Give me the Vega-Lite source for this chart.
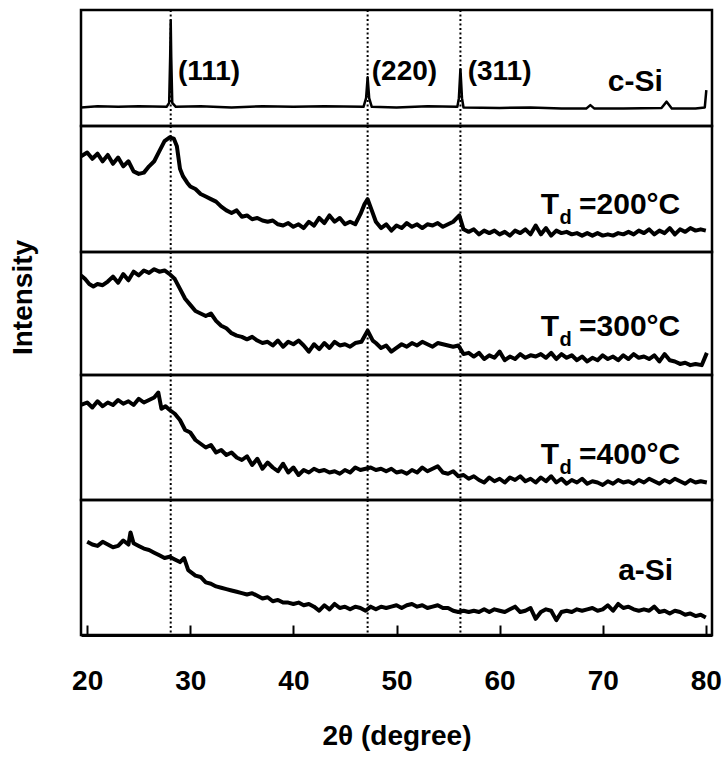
{
"$schema": "https://vega.github.io/schema/vega-lite/v6.json",
"padding": {"left": 7, "top": 7, "right": 14, "bottom": 0},
"spacing": 0,
"bounds": "flush",
"config": {"view": {"stroke": "black", "strokeWidth": 2.5}, "font": "Liberation Sans"},
"datasets": {
"lines": [{"x": 28.1}, {"x": 47.2}, {"x": 56.2}],
"csi": [{"x":19.4,"y":16},{"x":21,"y":17},{"x":23,"y":16.5},{"x":25,"y":17},{"x":27.7,"y":16.5},{"x":27.95,"y":20},{"x":28.05,"y":60},{"x":28.1,"y":91},{"x":28.15,"y":60},{"x":28.25,"y":20},{"x":28.6,"y":16.5},{"x":31,"y":17},{"x":34,"y":16},{"x":37,"y":17},{"x":40,"y":16.5},{"x":43,"y":17},{"x":46.8,"y":16.5},{"x":47.05,"y":24},{"x":47.2,"y":42},{"x":47.35,"y":24},{"x":47.6,"y":16.5},{"x":50,"y":16},{"x":53,"y":17},{"x":55.9,"y":16.5},{"x":56.05,"y":24},{"x":56.2,"y":49},{"x":56.35,"y":24},{"x":56.5,"y":16},{"x":60,"y":15.5},{"x":63,"y":16},{"x":66,"y":15},{"x":68.4,"y":15},{"x":68.8,"y":18},{"x":69.2,"y":15},{"x":72,"y":15},{"x":75.7,"y":15.5},{"x":76.2,"y":21},{"x":76.7,"y":15},{"x":79,"y":15},{"x":79.9,"y":16},{"x":80.05,"y":31}],
"t200": [{"x":19.4,"y":76},{"x":20,"y":79},{"x":20.5,"y":74},{"x":21,"y":78},{"x":21.5,"y":72},{"x":22,"y":77},{"x":22.5,"y":70},{"x":23,"y":75},{"x":23.5,"y":68},{"x":24,"y":72},{"x":24.5,"y":64},{"x":25,"y":62},{"x":25.5,"y":63},{"x":26,"y":68},{"x":26.5,"y":72},{"x":27,"y":80},{"x":27.5,"y":88},{"x":28,"y":91},{"x":28.4,"y":90},{"x":28.7,"y":84},{"x":29,"y":66},{"x":29.3,"y":60},{"x":29.7,"y":55},{"x":30,"y":52},{"x":30.5,"y":50},{"x":31,"y":46},{"x":31.5,"y":44},{"x":32,"y":42},{"x":32.5,"y":40},{"x":33,"y":36},{"x":33.5,"y":33},{"x":34,"y":31},{"x":34.5,"y":33},{"x":35,"y":28},{"x":35.5,"y":29},{"x":36,"y":26},{"x":36.5,"y":27},{"x":37,"y":25},{"x":37.5,"y":24},{"x":38,"y":25},{"x":38.5,"y":22},{"x":39,"y":21},{"x":39.5,"y":23},{"x":40,"y":20},{"x":40.5,"y":22},{"x":41,"y":19},{"x":41.5,"y":24},{"x":42,"y":21},{"x":42.5,"y":27},{"x":43,"y":23},{"x":43.5,"y":29},{"x":44,"y":24},{"x":44.5,"y":27},{"x":45,"y":22},{"x":45.5,"y":24},{"x":46,"y":22},{"x":46.5,"y":30},{"x":46.9,"y":38},{"x":47.2,"y":42},{"x":47.6,"y":33},{"x":48,"y":24},{"x":48.5,"y":19},{"x":49,"y":22},{"x":49.5,"y":17},{"x":50,"y":21},{"x":50.5,"y":19},{"x":51,"y":23},{"x":51.5,"y":20},{"x":52,"y":22},{"x":52.5,"y":19},{"x":53,"y":22},{"x":53.5,"y":21},{"x":54,"y":23},{"x":54.5,"y":20},{"x":55,"y":22},{"x":55.5,"y":24},{"x":56.1,"y":29},{"x":56.5,"y":18},{"x":57,"y":16},{"x":57.5,"y":18},{"x":58,"y":14},{"x":58.5,"y":17},{"x":59,"y":15},{"x":59.5,"y":17},{"x":60,"y":14},{"x":60.5,"y":16},{"x":61,"y":13},{"x":61.5,"y":17},{"x":62,"y":15},{"x":62.5,"y":18},{"x":63,"y":14},{"x":63.5,"y":21},{"x":64,"y":14},{"x":64.5,"y":19},{"x":65,"y":13},{"x":65.5,"y":17},{"x":66,"y":15},{"x":66.5,"y":16},{"x":67,"y":14},{"x":67.5,"y":15},{"x":68,"y":13},{"x":68.5,"y":15},{"x":69,"y":13},{"x":69.5,"y":15},{"x":70,"y":13},{"x":70.5,"y":14},{"x":71,"y":13},{"x":71.5,"y":15},{"x":72,"y":14},{"x":72.5,"y":16},{"x":73,"y":14},{"x":73.5,"y":17},{"x":74,"y":15},{"x":74.5,"y":18},{"x":75,"y":14},{"x":75.5,"y":17},{"x":76,"y":15},{"x":76.5,"y":19},{"x":77,"y":14},{"x":77.5,"y":18},{"x":78,"y":16},{"x":78.5,"y":19},{"x":79,"y":17},{"x":79.5,"y":18},{"x":80,"y":17}],
"t300": [{"x":19.4,"y":81},{"x":19.8,"y":78},{"x":20.2,"y":74},{"x":20.6,"y":72},{"x":21,"y":74},{"x":21.5,"y":73},{"x":22,"y":76},{"x":22.5,"y":80},{"x":23,"y":75},{"x":23.5,"y":82},{"x":24,"y":77},{"x":24.5,"y":84},{"x":25,"y":81},{"x":25.5,"y":85},{"x":26,"y":83},{"x":26.5,"y":86},{"x":27,"y":84},{"x":27.5,"y":85},{"x":28,"y":82},{"x":28.5,"y":78},{"x":29,"y":70},{"x":29.5,"y":62},{"x":30,"y":57},{"x":30.5,"y":52},{"x":31,"y":50},{"x":31.5,"y":48},{"x":32,"y":50},{"x":32.5,"y":44},{"x":33,"y":40},{"x":33.5,"y":38},{"x":34,"y":34},{"x":34.5,"y":32},{"x":35,"y":31},{"x":35.5,"y":29},{"x":36,"y":31},{"x":36.5,"y":28},{"x":37,"y":26},{"x":37.5,"y":27},{"x":38,"y":24},{"x":38.5,"y":28},{"x":39,"y":23},{"x":39.5,"y":27},{"x":40,"y":25},{"x":40.5,"y":28},{"x":41,"y":24},{"x":41.5,"y":19},{"x":42,"y":25},{"x":42.5,"y":21},{"x":43,"y":26},{"x":43.5,"y":22},{"x":44,"y":27},{"x":44.5,"y":24},{"x":45,"y":25},{"x":45.5,"y":23},{"x":46,"y":26},{"x":46.6,"y":27},{"x":47.2,"y":36},{"x":47.7,"y":28},{"x":48,"y":26},{"x":48.5,"y":22},{"x":49,"y":24},{"x":49.5,"y":19},{"x":50,"y":22},{"x":50.5,"y":25},{"x":51,"y":23},{"x":51.5,"y":26},{"x":52,"y":24},{"x":52.5,"y":27},{"x":53,"y":25},{"x":53.5,"y":23},{"x":54,"y":26},{"x":54.5,"y":25},{"x":55,"y":24},{"x":55.5,"y":23},{"x":56,"y":24},{"x":56.5,"y":17},{"x":57,"y":18},{"x":57.5,"y":15},{"x":58,"y":18},{"x":58.5,"y":13},{"x":59,"y":16},{"x":59.5,"y":14},{"x":60,"y":19},{"x":60.5,"y":12},{"x":61,"y":15},{"x":61.5,"y":13},{"x":62,"y":17},{"x":62.5,"y":14},{"x":63,"y":16},{"x":63.5,"y":15},{"x":64,"y":17},{"x":64.5,"y":14},{"x":65,"y":18},{"x":65.5,"y":13},{"x":66,"y":17},{"x":66.5,"y":14},{"x":67,"y":16},{"x":67.5,"y":12},{"x":68,"y":15},{"x":68.5,"y":11},{"x":69,"y":14},{"x":69.5,"y":12},{"x":70,"y":16},{"x":70.5,"y":13},{"x":71,"y":15},{"x":71.5,"y":12},{"x":72,"y":16},{"x":72.5,"y":13},{"x":73,"y":17},{"x":73.5,"y":14},{"x":74,"y":15},{"x":74.5,"y":13},{"x":75,"y":16},{"x":75.5,"y":11},{"x":76,"y":17},{"x":76.5,"y":12},{"x":77,"y":11},{"x":77.5,"y":9},{"x":78,"y":10},{"x":78.5,"y":8},{"x":79,"y":9},{"x":79.6,"y":8},{"x":80.1,"y":18}],
"t400": [{"x":19.4,"y":76},{"x":20,"y":78},{"x":20.5,"y":74},{"x":21,"y":79},{"x":21.5,"y":75},{"x":22,"y":78},{"x":22.5,"y":76},{"x":23,"y":80},{"x":23.5,"y":77},{"x":24,"y":79},{"x":24.5,"y":76},{"x":25,"y":81},{"x":25.5,"y":78},{"x":26,"y":80},{"x":26.5,"y":82},{"x":26.9,"y":86},{"x":27.2,"y":73},{"x":27.6,"y":75},{"x":28,"y":72},{"x":28.5,"y":69},{"x":29,"y":64},{"x":29.5,"y":56},{"x":30,"y":54},{"x":30.5,"y":48},{"x":31,"y":45},{"x":31.5,"y":42},{"x":32,"y":44},{"x":32.5,"y":38},{"x":33,"y":40},{"x":33.5,"y":36},{"x":34,"y":38},{"x":34.5,"y":34},{"x":35,"y":32},{"x":35.5,"y":35},{"x":36,"y":28},{"x":36.5,"y":33},{"x":37,"y":25},{"x":37.5,"y":30},{"x":38,"y":26},{"x":38.5,"y":23},{"x":39,"y":29},{"x":39.5,"y":22},{"x":40,"y":26},{"x":40.5,"y":20},{"x":41,"y":24},{"x":41.5,"y":22},{"x":42,"y":25},{"x":42.5,"y":23},{"x":43,"y":24},{"x":43.5,"y":22},{"x":44,"y":23},{"x":44.5,"y":21},{"x":45,"y":24},{"x":45.5,"y":22},{"x":46,"y":26},{"x":46.5,"y":24},{"x":47,"y":25},{"x":47.5,"y":26},{"x":48,"y":24},{"x":48.5,"y":25},{"x":49,"y":23},{"x":49.5,"y":25},{"x":50,"y":22},{"x":50.5,"y":23},{"x":51,"y":21},{"x":51.5,"y":24},{"x":52,"y":22},{"x":52.5,"y":26},{"x":53,"y":23},{"x":53.5,"y":25},{"x":54,"y":27},{"x":54.5,"y":22},{"x":55,"y":21},{"x":55.5,"y":23},{"x":56,"y":19},{"x":56.5,"y":20},{"x":57,"y":17},{"x":57.5,"y":19},{"x":58,"y":16},{"x":58.5,"y":14},{"x":59,"y":18},{"x":59.5,"y":15},{"x":60,"y":17},{"x":60.5,"y":14},{"x":61,"y":18},{"x":61.5,"y":16},{"x":62,"y":19},{"x":62.5,"y":15},{"x":63,"y":17},{"x":63.5,"y":14},{"x":64,"y":18},{"x":64.5,"y":15},{"x":65,"y":19},{"x":65.5,"y":14},{"x":66,"y":17},{"x":66.5,"y":13},{"x":67,"y":16},{"x":67.5,"y":14},{"x":68,"y":17},{"x":68.5,"y":13},{"x":69,"y":15},{"x":69.5,"y":14},{"x":70,"y":12},{"x":70.5,"y":15},{"x":71,"y":13},{"x":71.5,"y":16},{"x":72,"y":14},{"x":72.5,"y":15},{"x":73,"y":13},{"x":73.5,"y":16},{"x":74,"y":14},{"x":74.5,"y":17},{"x":75,"y":15},{"x":75.5,"y":13},{"x":76,"y":16},{"x":76.5,"y":14},{"x":77,"y":17},{"x":77.5,"y":15},{"x":78,"y":13},{"x":78.5,"y":16},{"x":79,"y":14},{"x":79.5,"y":15},{"x":80.1,"y":14}],
"asi": [{"x":20,"y":69},{"x":20.5,"y":67},{"x":21,"y":66},{"x":21.5,"y":69},{"x":22,"y":67},{"x":22.5,"y":65},{"x":23,"y":66},{"x":23.5,"y":70},{"x":24,"y":67},{"x":24.2,"y":76},{"x":24.5,"y":68},{"x":25,"y":66},{"x":25.5,"y":64},{"x":26,"y":63},{"x":26.5,"y":61},{"x":27,"y":59},{"x":27.5,"y":57},{"x":28,"y":58},{"x":28.5,"y":56},{"x":29,"y":54},{"x":29.4,"y":57},{"x":29.8,"y":48},{"x":30.5,"y":44},{"x":31,"y":43},{"x":31.5,"y":39},{"x":32,"y":38},{"x":32.5,"y":36},{"x":33,"y":35},{"x":33.5,"y":34},{"x":34,"y":33},{"x":34.5,"y":32},{"x":35,"y":31},{"x":35.5,"y":30},{"x":36,"y":31},{"x":36.5,"y":29},{"x":37,"y":27},{"x":37.5,"y":28},{"x":38,"y":25},{"x":38.5,"y":26},{"x":39,"y":24},{"x":39.5,"y":24},{"x":40,"y":23},{"x":40.5,"y":24},{"x":41,"y":22},{"x":41.5,"y":23},{"x":42,"y":21},{"x":42.5,"y":18},{"x":43,"y":22},{"x":43.5,"y":19},{"x":44,"y":23},{"x":44.5,"y":20},{"x":45,"y":21},{"x":45.5,"y":19},{"x":46,"y":21},{"x":46.5,"y":20},{"x":47,"y":18},{"x":47.5,"y":21},{"x":48,"y":19},{"x":48.5,"y":21},{"x":49,"y":20},{"x":49.5,"y":21},{"x":50,"y":22},{"x":50.5,"y":20},{"x":51,"y":22},{"x":51.5,"y":23},{"x":52,"y":21},{"x":52.5,"y":22},{"x":53,"y":20},{"x":53.5,"y":21},{"x":54,"y":22},{"x":54.5,"y":20},{"x":55,"y":20},{"x":55.5,"y":18},{"x":56,"y":17},{"x":56.5,"y":18},{"x":57,"y":17},{"x":57.5,"y":18},{"x":58,"y":17},{"x":58.5,"y":19},{"x":59,"y":17},{"x":59.5,"y":19},{"x":60,"y":18},{"x":60.5,"y":17},{"x":61,"y":19},{"x":61.5,"y":21},{"x":62,"y":17},{"x":62.5,"y":18},{"x":63,"y":20},{"x":63.5,"y":12},{"x":64,"y":17},{"x":64.5,"y":19},{"x":65,"y":18},{"x":65.5,"y":11},{"x":66,"y":17},{"x":66.5,"y":18},{"x":67,"y":17},{"x":67.5,"y":19},{"x":68,"y":18},{"x":68.5,"y":19},{"x":69,"y":20},{"x":69.5,"y":18},{"x":70,"y":19},{"x":70.5,"y":22},{"x":71,"y":18},{"x":71.5,"y":23},{"x":72,"y":20},{"x":72.5,"y":21},{"x":73,"y":19},{"x":73.5,"y":18},{"x":74,"y":19},{"x":74.5,"y":18},{"x":75,"y":21},{"x":75.5,"y":17},{"x":76,"y":18},{"x":76.5,"y":16},{"x":77,"y":18},{"x":77.5,"y":17},{"x":78,"y":15},{"x":78.5,"y":16},{"x":79,"y":14},{"x":79.5,"y":15},{"x":80,"y":13}]
},
"vconcat": [
{"width": 631, "height": 116,
 "layer": [
  {"data": {"name": "lines"}, "mark": {"type": "rule", "color": "black", "strokeWidth": 2, "strokeDash": [2, 2.5]},
   "encoding": {"x": {"field": "x", "type": "quantitative", "scale": {"domain": [19.4, 80.6], "nice": false, "zero": false}, "axis": null}}},
  {"data": {"name": "csi"}, "mark": {"type": "line", "color": "black", "strokeWidth": 2.5, "strokeJoin": "round", "clip": true},
   "encoding": {"x": {"field": "x", "type": "quantitative", "scale": {"domain": [19.4, 80.6], "nice": false, "zero": false}, "axis": null},
     "y": {"field": "y", "type": "quantitative", "scale": {"domain": [0, 100], "nice": false}, "axis": null}}},
  {"data": {"values": [{"x": 28.8, "y": 40, "t": "(111)"}, {"x": 47.6, "y": 40, "t": "(220)"}, {"x": 56.9, "y": 40, "t": "(311)"}]},
   "mark": {"type": "text", "align": "left", "baseline": "alphabetic", "fontSize": 28, "fontWeight": "bold", "font": "Liberation Sans"},
   "encoding": {"x": {"field": "x", "type": "quantitative"}, "y": {"field": "y", "type": "quantitative"}, "text": {"field": "t"}}},
  {"data": {"values": [{"x": 70.5, "y": 30, "t": "c-Si"}]},
   "mark": {"type": "text", "align": "left", "baseline": "alphabetic", "fontSize": 30, "fontWeight": "bold", "font": "Liberation Sans"},
   "encoding": {"x": {"field": "x", "type": "quantitative"}, "y": {"field": "y", "type": "quantitative"}, "text": {"field": "t"}}}
 ]},
{"width": 631, "height": 126,
 "layer": [
  {"data": {"name": "lines"}, "mark": {"type": "rule", "color": "black", "strokeWidth": 2, "strokeDash": [2, 2.5]},
   "encoding": {"x": {"field": "x", "type": "quantitative", "scale": {"domain": [19.4, 80.6], "nice": false, "zero": false}, "axis": null}}},
  {"data": {"name": "t200"}, "mark": {"type": "line", "color": "black", "strokeWidth": 4, "strokeJoin": "round", "clip": true},
   "encoding": {"x": {"field": "x", "type": "quantitative", "scale": {"domain": [19.4, 80.6], "nice": false, "zero": false}, "axis": null},
     "y": {"field": "y", "type": "quantitative", "scale": {"domain": [0, 100], "nice": false}, "axis": null}}},
  {"data": {"values": [{"x": 64.0, "y": 30, "t": "T"}, {"x": 67.7, "y": 30, "t": "=200°C"}]},
   "mark": {"type": "text", "align": "left", "baseline": "alphabetic", "fontSize": 30, "fontWeight": "bold", "font": "Liberation Sans"},
   "encoding": {"x": {"field": "x", "type": "quantitative"}, "y": {"field": "y", "type": "quantitative"}, "text": {"field": "t"}}},
  {"data": {"values": [{"x": 66.4, "y": 22, "t": "d"}]},
   "mark": {"type": "text", "align": "center", "baseline": "alphabetic", "fontSize": 20, "fontWeight": "bold", "font": "Liberation Sans"},
   "encoding": {"x": {"field": "x", "type": "quantitative"}, "y": {"field": "y", "type": "quantitative"}, "text": {"field": "t"}}}
 ]},
{"width": 631, "height": 123,
 "layer": [
  {"data": {"name": "lines"}, "mark": {"type": "rule", "color": "black", "strokeWidth": 2, "strokeDash": [2, 2.5]},
   "encoding": {"x": {"field": "x", "type": "quantitative", "scale": {"domain": [19.4, 80.6], "nice": false, "zero": false}, "axis": null}}},
  {"data": {"name": "t300"}, "mark": {"type": "line", "color": "black", "strokeWidth": 4, "strokeJoin": "round", "clip": true},
   "encoding": {"x": {"field": "x", "type": "quantitative", "scale": {"domain": [19.4, 80.6], "nice": false, "zero": false}, "axis": null},
     "y": {"field": "y", "type": "quantitative", "scale": {"domain": [0, 100], "nice": false},
       "axis": {"title": "Intensity", "labels": false, "ticks": false, "domain": false, "grid": false, "titleFontSize": 28, "titleFont": "Liberation Sans", "titleFontWeight": "bold", "titleColor": "black", "titlePadding": 44, "titleY": 45}}}},
  {"data": {"values": [{"x": 64.0, "y": 31.5, "t": "T"}, {"x": 67.7, "y": 31.5, "t": "=300°C"}]},
   "mark": {"type": "text", "align": "left", "baseline": "alphabetic", "fontSize": 30, "fontWeight": "bold", "font": "Liberation Sans"},
   "encoding": {"x": {"field": "x", "type": "quantitative"}, "y": {"field": "y", "type": "quantitative"}, "text": {"field": "t"}}},
  {"data": {"values": [{"x": 66.4, "y": 23.5, "t": "d"}]},
   "mark": {"type": "text", "align": "center", "baseline": "alphabetic", "fontSize": 20, "fontWeight": "bold", "font": "Liberation Sans"},
   "encoding": {"x": {"field": "x", "type": "quantitative"}, "y": {"field": "y", "type": "quantitative"}, "text": {"field": "t"}}}
 ]},
{"width": 631, "height": 125,
 "layer": [
  {"data": {"name": "lines"}, "mark": {"type": "rule", "color": "black", "strokeWidth": 2, "strokeDash": [2, 2.5]},
   "encoding": {"x": {"field": "x", "type": "quantitative", "scale": {"domain": [19.4, 80.6], "nice": false, "zero": false}, "axis": null}}},
  {"data": {"name": "t400"}, "mark": {"type": "line", "color": "black", "strokeWidth": 4, "strokeJoin": "round", "clip": true},
   "encoding": {"x": {"field": "x", "type": "quantitative", "scale": {"domain": [19.4, 80.6], "nice": false, "zero": false}, "axis": null},
     "y": {"field": "y", "type": "quantitative", "scale": {"domain": [0, 100], "nice": false}, "axis": null}}},
  {"data": {"values": [{"x": 64.0, "y": 28.8, "t": "T"}, {"x": 67.7, "y": 28.8, "t": "=400°C"}]},
   "mark": {"type": "text", "align": "left", "baseline": "alphabetic", "fontSize": 30, "fontWeight": "bold", "font": "Liberation Sans"},
   "encoding": {"x": {"field": "x", "type": "quantitative"}, "y": {"field": "y", "type": "quantitative"}, "text": {"field": "t"}}},
  {"data": {"values": [{"x": 66.4, "y": 20.8, "t": "d"}]},
   "mark": {"type": "text", "align": "center", "baseline": "alphabetic", "fontSize": 20, "fontWeight": "bold", "font": "Liberation Sans"},
   "encoding": {"x": {"field": "x", "type": "quantitative"}, "y": {"field": "y", "type": "quantitative"}, "text": {"field": "t"}}}
 ]},
{"width": 631, "height": 135,
 "layer": [
  {"data": {"name": "lines"}, "mark": {"type": "rule", "color": "black", "strokeWidth": 2, "strokeDash": [2, 2.5]},
   "encoding": {"x": {"field": "x", "type": "quantitative", "scale": {"domain": [19.4, 80.6], "nice": false, "zero": false}}}},
  {"data": {"name": "asi"}, "mark": {"type": "line", "color": "black", "strokeWidth": 4, "strokeJoin": "round", "clip": true},
   "encoding": {"x": {"field": "x", "type": "quantitative", "scale": {"domain": [19.4, 80.6], "nice": false, "zero": false},
       "axis": {"title": "2θ (degree)", "values": [20, 30, 40, 50, 60, 70, 80], "grid": false, "tickSize": -10, "tickWidth": 2, "tickColor": "black", "domainColor": "black", "domainWidth": 3, "labelFontSize": 28, "labelFont": "Liberation Sans", "labelFontWeight": "bold", "labelColor": "black", "labelPadding": 42, "labelFlush": false, "titleFontSize": 28, "titleFont": "Liberation Sans", "titleFontWeight": "bold", "titleColor": "black", "titlePadding": 27}},
     "y": {"field": "y", "type": "quantitative", "scale": {"domain": [0, 100], "nice": false}, "axis": null}}},
  {"data": {"values": [{"x": 71.5, "y": 40.7, "t": "a-Si"}]},
   "mark": {"type": "text", "align": "left", "baseline": "alphabetic", "fontSize": 30, "fontWeight": "bold", "font": "Liberation Sans"},
   "encoding": {"x": {"field": "x", "type": "quantitative"}, "y": {"field": "y", "type": "quantitative"}, "text": {"field": "t"}}}
 ]}
]
}
